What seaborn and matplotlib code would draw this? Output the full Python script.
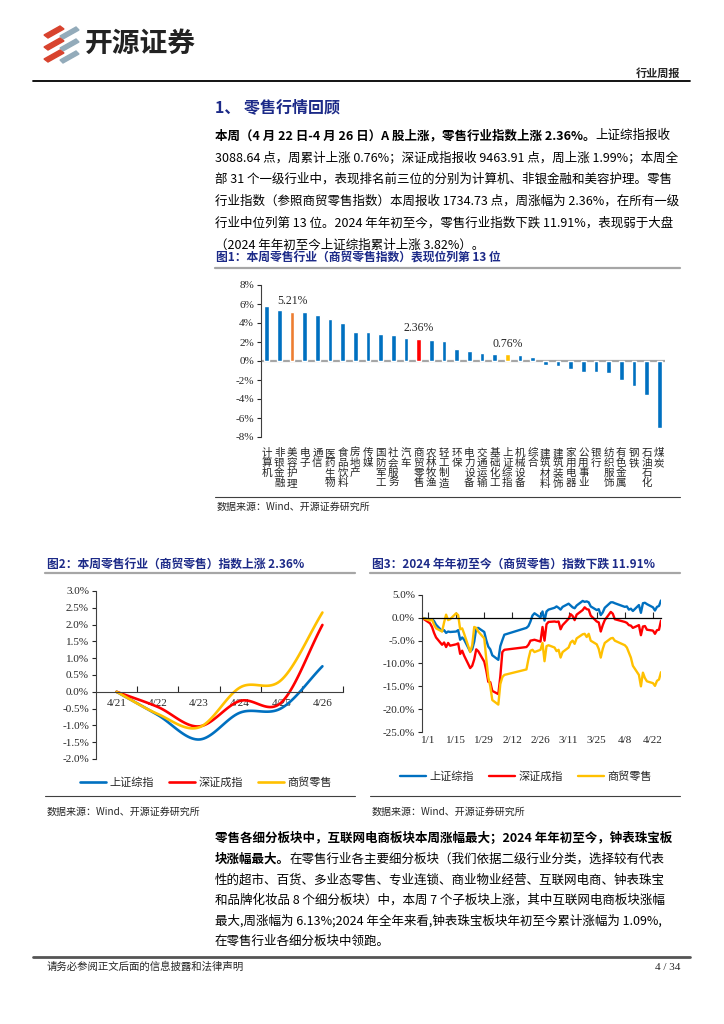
import numpy as np
import pandas as pd
import matplotlib
matplotlib.use('Agg')
import matplotlib.pyplot as plt
from matplotlib.patches import Polygon
from matplotlib.lines import Line2D
import seaborn as sns

sns.set_style('white')
plt.rcParams['font.family'] = ['Noto Sans CJK SC', 'DejaVu Sans']
plt.rcParams['axes.unicode_minus'] = False

# ---------------- data ----------------
# Fig 1: weekly change of the SW level-1 industries (%), plus the SSE index
industries = ['计算机', '非银金融', '美容护理', '电子', '通信', '医药生物', '食品饮料', '房地产',
              '传媒', '国防军工', '社会服务', '汽车', '商贸零售', '农林牧渔', '轻工制造', '环保',
              '电力设备', '交通运输', '基础化工', '上证综指', '机械设备', '综合', '建筑材料',
              '建筑装饰', '家用电器', '公用事业', '银行', '纺织服饰', '有色金属', '钢铁',
              '石油石化', '煤炭']
weekly_chg = [5.74, 5.36, 5.21, 5.15, 4.83, 4.42, 4.00, 3.06, 3.06, 2.85, 2.78, 2.40, 2.36,
              2.16, 2.12, 1.22, 1.04, 0.87, 0.77, 0.76, 0.59, 0.42, -0.38, -0.56, -0.83,
              -1.11, -1.15, -1.25, -2.05, -2.68, -3.62, -7.03]
highlight = {'美容护理': '#ED7D31', '商贸零售': '#FF0000', '上证综指': '#FFC000'}

# Fig 2: cumulative change this week (%)
week_days = ['4/21', '4/22', '4/23', '4/24', '4/25', '4/26']
week_sh = [0, -0.69, -1.42, -0.62, -0.49, 0.76]
week_sz = [0, -0.45, -1.03, -0.27, -0.32, 1.99]
week_retail = [0, -0.66, -1.06, 0.13, 0.35, 2.36]

# Fig 3: cumulative change since start of 2024 (%)
ytd_dates = ['2023-12-29',
             '2024-01-02', '2024-01-03', '2024-01-04', '2024-01-05', '2024-01-08', '2024-01-09',
             '2024-01-10', '2024-01-11', '2024-01-12', '2024-01-15', '2024-01-16', '2024-01-17',
             '2024-01-18', '2024-01-19', '2024-01-22', '2024-01-23', '2024-01-24', '2024-01-25',
             '2024-01-26', '2024-01-29', '2024-01-30', '2024-01-31', '2024-02-01', '2024-02-02',
             '2024-02-05', '2024-02-06', '2024-02-07', '2024-02-08', '2024-02-19', '2024-02-20',
             '2024-02-21', '2024-02-22', '2024-02-23', '2024-02-26', '2024-02-27', '2024-02-28',
             '2024-02-29', '2024-03-01', '2024-03-04', '2024-03-05', '2024-03-06', '2024-03-07',
             '2024-03-08', '2024-03-11', '2024-03-12', '2024-03-13', '2024-03-14', '2024-03-15',
             '2024-03-18', '2024-03-19', '2024-03-20', '2024-03-21', '2024-03-22', '2024-03-25',
             '2024-03-26', '2024-03-27', '2024-03-28', '2024-03-29', '2024-04-01', '2024-04-02',
             '2024-04-03', '2024-04-08', '2024-04-09', '2024-04-10', '2024-04-11', '2024-04-12',
             '2024-04-15', '2024-04-16', '2024-04-17', '2024-04-18', '2024-04-19', '2024-04-22',
             '2024-04-23', '2024-04-24', '2024-04-25', '2024-04-26']
ytd_sh = [0, -0.4, -0.3, -0.7, -1.5, -2.9, -2.7, -3.3, -3.0, -3.1, -3.0, -2.7, -4.8, -4.3,
          -4.8, -7.4, -6.9, -5.2, -2.3, -2.2, -3.1, -4.9, -6.3, -6.9, -8.2, -9.2, -6.2, -4.9,
          -3.7, -2.2, -1.8, -0.8, 0.5, 1.0, 0.1, 1.4, -0.6, 1.4, 1.8, 2.2, 2.5, 2.2, 1.8, 2.4,
          3.1, 2.7, 2.3, 2.1, 2.7, 3.7, 3.5, 3.6, 3.4, 2.5, 1.7, 1.9, 0.6, 1.2, 2.2, 3.4, 3.4,
          3.2, 2.4, 2.5, 1.8, 2.0, 1.5, 2.8, 1.1, 3.2, 3.3, 3.0, 2.3, 1.6, 2.4, 2.6, 3.8]
ytd_sz = [0, -1.2, -2.0, -3.3, -4.3, -5.9, -5.4, -6.4, -5.5, -6.1, -5.8, -5.6, -7.9, -7.2,
          -8.3, -11.0, -10.5, -9.1, -6.9, -7.3, -9.6, -11.5, -14.0, -14.1, -16.0, -16.7,
          -12.8, -7.5, -7.0, -6.4, -5.9, -5.0, -4.9, -4.8, -5.2, -2.0, -5.0, -1.4, -0.9, -0.8,
          -0.9, -0.8, -2.5, -1.6, -0.2, 0.8, 0.4, -0.5, 0.7, 1.7, 2.3, 1.9, 1.8, 0.5, -0.8,
          -1.0, -3.0, -1.6, -0.5, 1.3, 0.9, -0.3, -0.9, -1.1, -1.6, -1.7, -2.2, -1.6, -3.8,
          -1.9, -1.8, -2.6, -2.8, -3.5, -2.7, -2.6, -0.6]
ytd_retail = [0, -0.6, -0.4, -1.5, -2.3, -3.0, -1.0, 0.7, -0.5, -0.3, 1.0, 0.6, -2.5, -2.3,
              -3.5, -7.5, -6.0, -2.0, -2.2, -3.0, -4.5, -9.0, -13.0, -15.0, -18.0, -19.0,
              -14.5, -13.0, -12.5, -11.3, -9.0, -7.2, -7.0, -7.5, -7.0, -5.5, -9.5, -6.2, -6.0,
              -6.5, -7.3, -7.0, -8.7, -7.5, -6.5, -5.4, -5.0, -5.7, -4.5, -3.6, -3.5, -4.2,
              -3.5, -5.0, -5.8, -6.8, -8.7, -6.8, -5.5, -4.5, -4.4, -5.0, -6.0, -6.5, -7.6,
              -8.7, -10.5, -12.5, -15.0, -12.0, -13.2, -13.9, -14.3, -14.9, -13.8, -13.5, -11.9]

series_names = ['上证综指', '深证成指', '商贸零售']
series_colors = ['#0070C0', '#FF0000', '#FFC000']

para1 = [
    [('本周（4 月 22 日-4 月 26 日）A 股上涨，零售行业指数上涨 2.36%。', 'bold'), ('上证综指报收', 'normal')],
    [('3088.64 点，周累计上涨 0.76%；深证成指报收 9463.91 点，周上涨 1.99%；本周全', 'normal')],
    [('部 31 个一级行业中，表现排名前三位的分别为计算机、非银金融和美容护理。零售', 'normal')],
    [('行业指数（参照商贸零售指数）本周报收 1734.73 点，周涨幅为 2.36%，在所有一级', 'normal')],
    [('行业中位列第 13 位。2024 年年初至今，零售行业指数下跌 11.91%，表现弱于大盘', 'normal')],
    [('（2024 年年初至今上证综指累计上涨 3.82%）。', 'normal')],
]
para2 = [
    [('零售各细分板块中，互联网电商板块本周涨幅最大；2024 年年初至今，钟表珠宝板', 'bold')],
    [('块涨幅最大。', 'bold'), ('在零售行业各主要细分板块（我们依据二级行业分类，选择较有代表', 'normal')],
    [('性的超市、百货、多业态零售、专业连锁、商业物业经营、互联网电商、钟表珠宝', 'normal')],
    [('和品牌化妆品 8 个细分板块）中，本周 7 个子板块上涨，其中互联网电商板块涨幅', 'normal')],
    [('最大,周涨幅为 6.13%;2024 年全年来看,钟表珠宝板块年初至今累计涨幅为 1.09%,', 'normal')],
    [('在零售行业各细分板块中领跑。', 'normal')],
]

# ---------------- page helpers ----------------
W, H = 724, 1024
NAVY = '#1C2A88'
SERIF = 'Liberation Serif'
fig = plt.figure(figsize=(W / 100, H / 100), dpi=100)
renderer = fig.canvas.get_renderer()


def fx(x):
    return x / W


def fy(y):
    return 1 - y / H


def axes_px(left, top, right, bottom):
    return fig.add_axes([fx(left), fy(bottom), (right - left) / W, (bottom - top) / H])


def text_px(x, y, s, **kw):
    kw.setdefault('va', 'center')
    return fig.text(fx(x), fy(y), s, **kw)


def hline_px(y, x0, x1, color='k', lw=1.0):
    fig.add_artist(Line2D([fx(x0), fx(x1)], [fy(y), fy(y)], color=color, lw=lw))


def rich_line(x, y, parts, size=9.0, color='k'):
    # segments of one text line, each one starting where the previous one ends
    for s, w in parts:
        t = text_px(x, y, s, fontsize=size, fontweight=w, color=color, va='baseline')
        x = t.get_window_extent(renderer).x1


def smooth(x, y, n=24):
    # Catmull-Rom curve through the points (Excel style smoothed line)
    x = np.asarray(x, float)
    y = np.asarray(y, float)
    px = np.concatenate([[2 * x[0] - x[1]], x, [2 * x[-1] - x[-2]]])
    py = np.concatenate([[2 * y[0] - y[1]], y, [2 * y[-1] - y[-2]]])
    t = np.linspace(0, 1, n, endpoint=False)
    ox, oy = [], []
    for i in range(1, len(px) - 2):
        for arr, out in ((px, ox), (py, oy)):
            p0, p1, p2, p3 = arr[i - 1:i + 3]
            out.extend(0.5 * (2 * p1 + (-p0 + p2) * t + (2 * p0 - 5 * p1 + 4 * p2 - p3) * t ** 2
                              + (-p0 + 3 * p1 - 3 * p2 + p3) * t ** 3))
    ox.append(x[-1])
    oy.append(y[-1])
    return np.array(ox), np.array(oy)


# ---------------- header ----------------
for k in range(3):
    y0 = 26 + 12 * k
    fig.add_artist(Polygon([(fx(44), fy(y0 + 9)), (fx(60), fy(y0)), (fx(64), fy(y0 + 3)),
                            (fx(48), fy(y0 + 12))], closed=True, color='#D8432E'))
    fig.add_artist(Polygon([(fx(60), fy(y0 + 10)), (fx(76), fy(y0 + 1)), (fx(79), fy(y0 + 4)),
                            (fx(63), fy(y0 + 13))], closed=True, color='#93ABBA'))
text_px(85, 44, '开源证券', fontsize=20, fontweight='bold', color='#222222')
text_px(680, 73, '行业周报', fontsize=8, fontweight='bold', ha='right')
hline_px(81, 33, 690, 'k', 1.3)

text_px(215, 107, '1、 零售行情回顾', fontsize=11.5, fontweight='bold', color=NAVY)

for i, parts in enumerate(para1):
    rich_line(215, 139 + 22 * i, parts)

# ---------------- figure 1 ----------------
text_px(216, 258, '图1：本周零售行业（商贸零售指数）表现位列第 13 位', fontsize=8.5,
        fontweight='bold', color=NAVY)
hline_px(268, 215, 680, '#A6A6A6', 1.6)

ax1 = axes_px(261, 285, 665, 437)
bar_colors = [highlight.get(n, '#0070C0') for n in industries]
sns.barplot(x=industries, y=weekly_chg, hue=industries, palette=bar_colors, legend=False,
            width=0.36, saturation=1, ax=ax1)
ax1.axhline(0, color='#A6A6A6', lw=1.6, zorder=0.5)
ax1.set_xlim(-0.45, len(industries) - 0.55)
ax1.set_ylim(-8, 8)
ax1.set_yticks(range(-8, 9, 2))
ax1.set_yticklabels([f'{v}%' for v in range(-8, 9, 2)], fontsize=8, family=SERIF)
ax1.set_xticks(range(len(industries)))
ax1.set_xticklabels(['\n'.join(n) for n in industries], fontsize=7.6, linespacing=1.0)
ax1.tick_params(axis='x', length=0, pad=8)
ax1.tick_params(axis='y', direction='out', length=3, width=0.8, pad=2, left=True)
for s in ['top', 'right', 'bottom']:
    ax1.spines[s].set_visible(False)
ax1.spines['left'].set_color('#404040')
ax1.spines['left'].set_linewidth(0.8)
ax1.set_xlabel('')
ax1.set_ylabel('')
for name in highlight:
    i = industries.index(name)
    ax1.text(i, weekly_chg[i] + 0.45, f'{weekly_chg[i]:.2f}%', ha='center', va='bottom',
             fontsize=8.5, family=SERIF)

hline_px(497, 215, 680, '#404040', 0.8)
text_px(217, 507, '数据来源：Wind、开源证券研究所', fontsize=7.2)

# ---------------- figure 2 ----------------
text_px(47, 564, '图2：本周零售行业（商贸零售）指数上涨 2.36%', fontsize=8.5,
        fontweight='bold', color=NAVY)
hline_px(573, 45, 355, '#A6A6A6', 1.6)

ax2 = axes_px(96, 591, 343, 759)
xs = np.arange(len(week_days))
for name, vals, c in zip(series_names, [week_sh, week_sz, week_retail], series_colors):
    sx, sy = smooth(xs, vals)
    sns.lineplot(x=sx, y=sy, color=c, lw=1.9, ax=ax2, label=name, sort=False)
ax2.spines['bottom'].set_position(('data', 0))
ax2.set_xlim(-0.5, len(week_days) - 0.5)
ax2.set_ylim(-2, 3)
yt2 = np.arange(-2, 3.01, 0.5)
ax2.set_yticks(yt2)
ax2.set_yticklabels([f'{v:.1f}%' for v in yt2], fontsize=8, family=SERIF)
ax2.set_xticks(xs)
ax2.set_xticklabels(week_days, fontsize=8, family=SERIF)
ax2.set_xticks(xs + 0.5, minor=True)
ax2.tick_params(axis='x', which='major', length=0, pad=5)
ax2.tick_params(axis='x', which='minor', direction='in', length=4, width=0.8, bottom=True)
ax2.tick_params(axis='y', direction='out', length=3, width=0.8, pad=2, left=True)
for s in ['top', 'right']:
    ax2.spines[s].set_visible(False)
for s in ['left', 'bottom']:
    ax2.spines[s].set_color('#404040')
    ax2.spines[s].set_linewidth(0.8)
ax2.legend(loc='center', bbox_to_anchor=(fx(206), fy(783)), bbox_transform=fig.transFigure,
           ncol=3, frameon=False, fontsize=8, handlelength=2.4, handletextpad=0.3,
           columnspacing=1.3)

hline_px(796, 45, 355, '#404040', 0.8)
text_px(47, 812, '数据来源：Wind、开源证券研究所', fontsize=7.2)

# ---------------- figure 3 ----------------
text_px(372, 564, '图3：2024 年年初至今（商贸零售）指数下跌 11.91%', fontsize=8.5,
        fontweight='bold', color=NAVY)
hline_px(573, 370, 680, '#A6A6A6', 1.6)

ax3 = axes_px(422, 595, 661, 732)
dts = pd.to_datetime(ytd_dates)
for name, vals, c in zip(series_names, [ytd_sh, ytd_sz, ytd_retail], series_colors):
    sns.lineplot(x=dts, y=vals, color=c, lw=1.7, ax=ax3, label=name)
ax3.spines['bottom'].set_position(('data', 0))
ax3.set_xlim(dts[0], dts[-1])
ax3.set_ylim(-25, 5)
yt3 = np.arange(-25, 5.1, 5)
ax3.set_yticks(yt3)
ax3.set_yticklabels([f'{v:.1f}%' for v in yt3], fontsize=8, family=SERIF)
tick_dates = pd.date_range('2024-01-01', '2024-04-22', freq='14D')
ax3.set_xticks(tick_dates)
ax3.set_xticklabels([f'{d.month}/{d.day}' for d in tick_dates], fontsize=8, family=SERIF)
ax3.tick_params(axis='x', direction='in', length=4, width=0.8, pad=85, bottom=True)
ax3.tick_params(axis='y', direction='out', length=3, width=0.8, pad=2, left=True)
for s in ['top', 'right']:
    ax3.spines[s].set_visible(False)
ax3.spines['left'].set_color('#404040')
ax3.spines['left'].set_linewidth(0.8)
ax3.spines['bottom'].set_color('k')
ax3.spines['bottom'].set_linewidth(0.9)
ax3.set_xlabel('')
ax3.legend(loc='center', bbox_to_anchor=(fx(526), fy(777)), bbox_transform=fig.transFigure,
           ncol=3, frameon=False, fontsize=8, handlelength=2.4, handletextpad=0.3,
           columnspacing=1.3)

hline_px(796, 370, 680, '#404040', 0.8)
text_px(372, 812, '数据来源：Wind、开源证券研究所', fontsize=7.2)

# ---------------- paragraph 2 & footer ----------------
for i, parts in enumerate(para2):
    rich_line(215, 842 + 20.6 * i, parts)

hline_px(957, 33, 690, '#555555', 2.0)
text_px(47, 967, '请务必参阅正文后面的信息披露和法律声明', fontsize=7.5)
text_px(680, 967, '4 / 34', fontsize=8, family=SERIF, ha='right')

fig.savefig('out.png', dpi=100)
